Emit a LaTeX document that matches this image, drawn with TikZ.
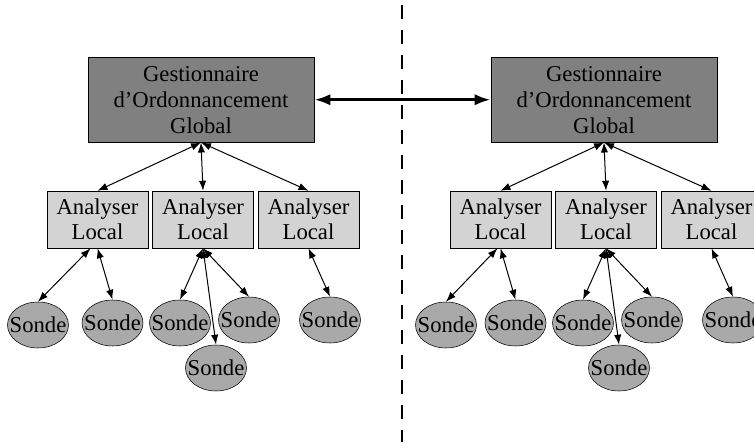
\documentclass[tikz,border=0pt]{standalone}
\usepackage{fontspec}
\setmainfont{Liberation Serif}
\usepackage[svgnames]{xcolor}
\usepackage{tikz}
\usetikzlibrary{positioning, arrows.meta, shapes.geometric}

\def\raster{0.75pt}
\def\sondetext{\makebox[0pt]{Sonde}}

\tikzset{
    gestion/.style={draw=black, fill=Gray, minimum width=226*\raster,
        minimum height=85*\raster, inner sep=0pt, align=center,
        font=\fontsize{17}{19.5}\selectfont},
    analyser/.style={draw=black, fill=LightGray, minimum width=101*\raster,
        minimum height=57*\raster, inner sep=0pt, align=center,
        font=\fontsize{17}{19}\selectfont},
    sonde/.style={ellipse, draw=black, fill=DarkGray, minimum width=61*\raster,
        minimum height=46*\raster, inner sep=0pt,
        font=\fontsize{17}{19}\selectfont},
    link/.style={line width=0.75pt,
        {Latex[length=7.5pt,width=5.5pt]}-{Latex[length=7.5pt,width=5.5pt]}},
    biglink/.style={line width=2.4pt,
        {Latex[length=12pt,width=8.5pt]}-{Latex[length=12pt,width=8.5pt]}},
}

\begin{document}
\begin{tikzpicture}[x=\raster, y=\raster]
    \clip (0,0) rectangle (754,447);

    % separation
    \draw[black, line width=1.7pt, dash pattern=on 10.5pt off 8.25pt]
        (402,442) -- (402,5);

    \foreach \s/\dx/\sx/\sh in {l/0/38/-7, r/403/446/-3}
    {
        \node[gestion] (g\s) at ({201+\dx}, 347.25) {Gestionnaire\\d'Ordonnancement\\Global};

        \node[analyser] (a\s1) at ({97.5+\dx}, 227.5) {Analyser\\Local};
        \node[analyser] (a\s2) at ({203+\dx}, 227.5) {Analyser\\Local};
        \node[analyser] (a\s3) at ({308.5+\dx}, 227.5) {Analyser\\Local};

        \node[sonde] (s\s1) at (\sx, 122) {\sondetext};
        \node[sonde] (s\s2) at ({112.5+\dx}, 124) {\sondetext};
        \node[sonde] (s\s3) at ({180+\dx}, 124) {\sondetext};
        \node[sonde] (s\s4) at ({249+\dx}, 127) {\sondetext};
        \node[sonde] (s\s5) at ({216+\dx}, 79) {\sondetext};
        \node[sonde] (s\s6) at ({330+\dx}, 127) {\sondetext};

        % global -> local
        \foreach \i in {1,2,3}
        {
            \draw[link] (g\s.south) -- (a\s\i.north);
        }

        % local -> sondes
        \draw[link] ([xshift=\sh*\raster]a\s1.south) -- (s\s1.north);
        \draw[link] (a\s1.south) -- (s\s2.north);
        \foreach \i in {3,4,5}
        {
            \draw[link] (a\s2.south) -- (s\s\i.north);
        }
        \draw[link] (a\s3.south) -- (s\s6.north);
    }

    \draw[biglink] (gl.east) -- (gr.west);
\end{tikzpicture}
\end{document}
